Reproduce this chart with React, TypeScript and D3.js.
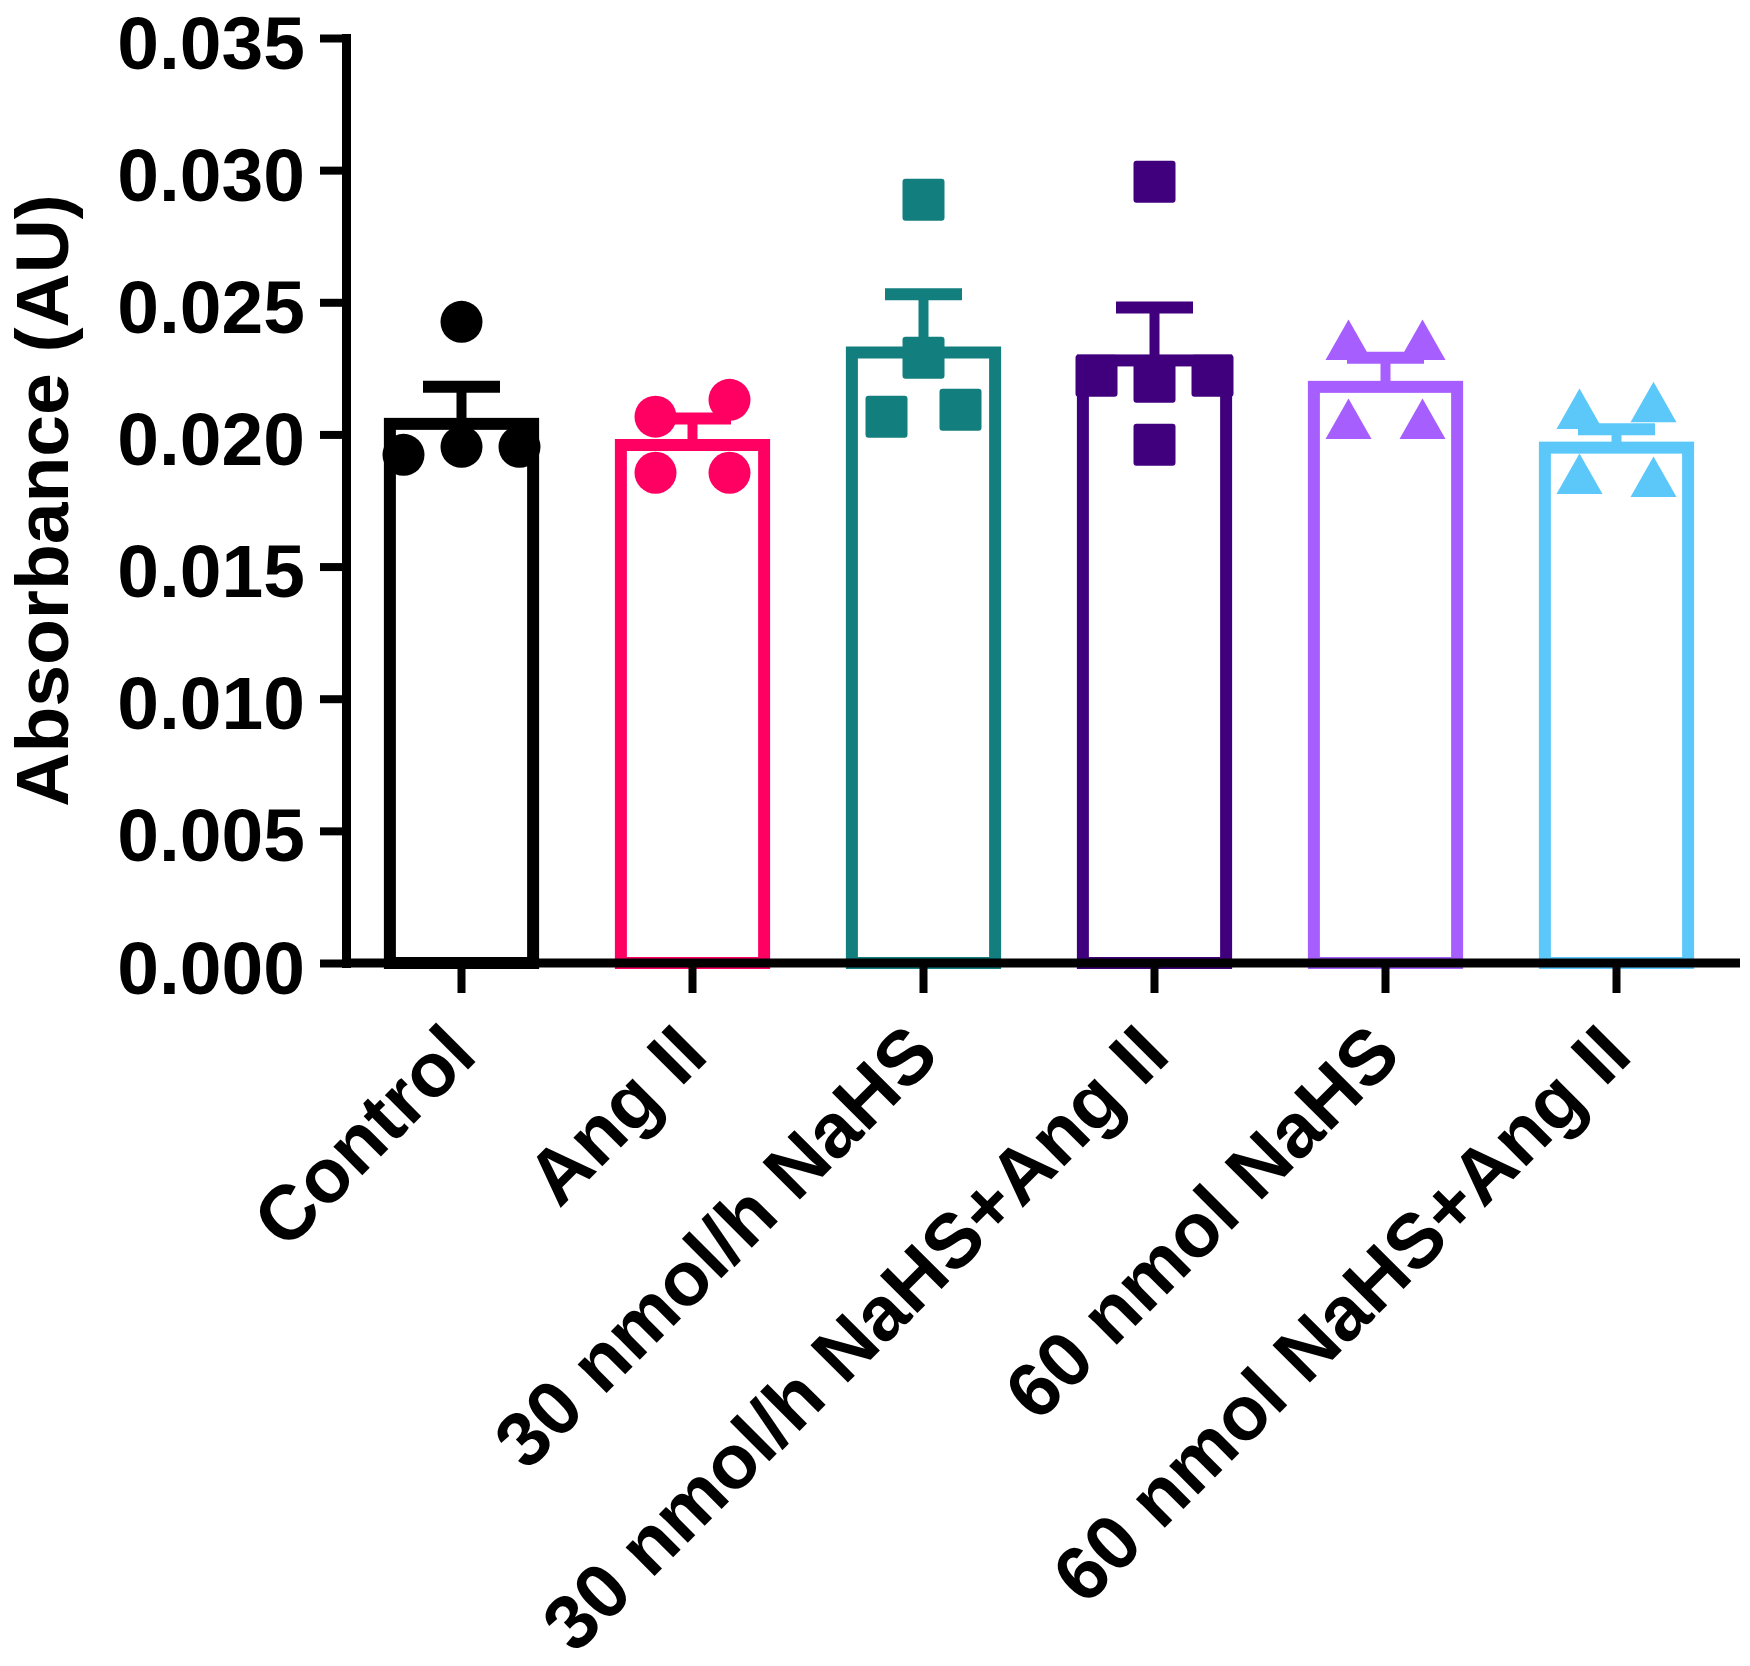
import React, { useEffect, useRef } from 'react';
import * as d3 from 'd3';

// groups, left to right
const categories = [
  'Control',
  'Ang II',
  '30 nmol/h NaHS',
  '30 nmol/h NaHS+Ang II',
  '60 nmol NaHS',
  '60 nmol NaHS+Ang II',
];

const means = [0.0204, 0.0196, 0.0231, 0.0228, 0.0218, 0.0195];
const sems = [0.0014, 0.001, 0.0022, 0.002, 0.0011, 0.0007];

// individual animals, listed left to right inside each row
const points: number[][] = [
  [0.02426, 0.01923, 0.01953, 0.01953],
  [0.02067, 0.02131, 0.01855, 0.01855],
  [0.02888, 0.0229, 0.02067, 0.02093],
  [0.02956, 0.02222, 0.02199, 0.02222, 0.01961],
  [0.02358, 0.02358, 0.02059, 0.02059],
  [0.02097, 0.02123, 0.01851, 0.0184],
];

const colors = ['#000000', '#ff0062', '#137e7e', '#40007e', '#a75eff', '#5cc8fa'];
const shapes = ['circle', 'circle', 'square', 'square', 'triangle', 'triangle'];

const yTicks = [0, 0.005, 0.01, 0.015, 0.02, 0.025, 0.03, 0.035];

const FONT = '"Liberation Sans", Arial, Helvetica, sans-serif';

const App: React.FC = () => {
  const svgRef = useRef<SVGSVGElement | null>(null);

  useEffect(() => {
    const width = 1750;
    const height = 1666;
    const axisX = 346;
    const baseY = 963;
    const topY = 38;
    const axisRight = 1740;

    const svg = d3.select(svgRef.current);
    svg.selectAll('*').remove();
    svg.attr('width', width).attr('height', height);

    const x = d3
      .scaleBand<string>()
      .domain(categories)
      .range([axisX, 1732])
      .paddingInner(0.38)
      .paddingOuter(0.19);
    const y = d3.scaleLinear().domain([0, 0.035]).range([baseY, topY]);

    const bw = x.bandwidth();
    const cx = (c: string) => (x(c) as number) + bw / 2;

    // spread points that sit at about the same height, like a column scatter
    const markerSize = 42;
    const spread = [0, 0, 37, 58, 70];
    const jitter = (vals: number[]) => {
      const order = vals.map((_, i) => i).sort((a, b) => vals[b] - vals[a]);
      const offsets = new Array(vals.length).fill(0);
      let row: number[] = [];
      const flush = () => {
        const n = row.length;
        const half = spread[Math.min(n, spread.length - 1)];
        row
          .slice()
          .sort((a, b) => a - b)
          .forEach((idx, k) => {
            offsets[idx] = n === 1 ? 0 : -half + (2 * half * k) / (n - 1);
          });
        row = [];
      };
      order.forEach((idx) => {
        if (row.length && y(vals[idx]) - y(vals[row[row.length - 1]]) > markerSize - 2) flush();
        row.push(idx);
      });
      flush();
      return offsets;
    };

    const g = svg.append('g');

    // bars
    g.selectAll('rect.bar')
      .data(categories)
      .enter()
      .append('rect')
      .attr('class', 'bar')
      .attr('x', (d) => x(d) as number)
      .attr('y', (_, i) => y(means[i]))
      .attr('width', bw)
      .attr('height', (_, i) => y(0) - y(means[i]))
      .attr('fill', '#fff')
      .attr('stroke', (_, i) => colors[i])
      .attr('stroke-width', 12);

    // error bars (mean + SEM, upward)
    categories.forEach((c, i) => {
      g.append('line')
        .attr('x1', cx(c))
        .attr('x2', cx(c))
        .attr('y1', y(means[i]))
        .attr('y2', y(means[i] + sems[i]))
        .attr('stroke', colors[i])
        .attr('stroke-width', 10);
      g.append('line')
        .attr('x1', cx(c) - 38.5)
        .attr('x2', cx(c) + 38.5)
        .attr('y1', y(means[i] + sems[i]))
        .attr('y2', y(means[i] + sems[i]))
        .attr('stroke', colors[i])
        .attr('stroke-width', 12);
    });

    // points
    const tri = (s: number) => {
      const h = s * 0.88;
      return `M0,${-h / 2}L${s / 2},${h / 2}L${-s / 2},${h / 2}Z`;
    };
    categories.forEach((c, i) => {
      const offs = jitter(points[i]);
      points[i].forEach((v, k) => {
        const px = cx(c) + offs[k];
        const py = y(v);
        if (shapes[i] === 'circle') {
          g.append('circle').attr('cx', px).attr('cy', py).attr('r', 21).attr('fill', colors[i]);
        } else if (shapes[i] === 'square') {
          g.append('rect')
            .attr('x', px - markerSize / 2)
            .attr('y', py - markerSize / 2)
            .attr('width', markerSize)
            .attr('height', markerSize)
            .attr('rx', 3)
            .attr('fill', colors[i]);
        } else {
          g.append('path')
            .attr('d', tri(46))
            .attr('transform', `translate(${px},${py})`)
            .attr('fill', colors[i]);
        }
      });
    });

    // y axis
    const yAxis = d3
      .axisLeft(y)
      .tickValues(yTicks)
      .tickSize(26)
      .tickSizeOuter(0)
      .tickPadding(15)
      .tickFormat(d3.format('.3f'));
    const ya = svg.append('g').attr('transform', `translate(${axisX},0)`).call(yAxis);
    ya.select('.domain').attr('stroke', '#000').attr('stroke-width', 9).attr('stroke-linecap', 'square');
    ya.selectAll('.tick line').attr('stroke', '#000').attr('stroke-width', 8);
    ya.selectAll('.tick text')
      .attr('fill', '#000')
      .style('font-family', FONT)
      .style('font-weight', 'bold')
      .style('font-size', '75px')
      .attr('dy', '0.4em');

    // x axis
    svg
      .append('line')
      .attr('x1', axisX)
      .attr('x2', axisRight)
      .attr('y1', baseY)
      .attr('y2', baseY)
      .attr('stroke', '#000')
      .attr('stroke-width', 9);
    const xAxis = d3.axisBottom(x).tickSize(30).tickSizeOuter(0).tickFormat(() => '');
    const xa = svg.append('g').attr('transform', `translate(0,${baseY})`).call(xAxis);
    xa.select('.domain').remove();
    xa.selectAll('.tick line').attr('stroke', '#000').attr('stroke-width', 8);

    // rotated category labels
    svg
      .selectAll('text.xlabel')
      .data(categories)
      .enter()
      .append('text')
      .attr('class', 'xlabel')
      .attr('transform', (d) => `translate(${cx(d) + 18},${baseY + 95}) rotate(-45)`)
      .attr('text-anchor', 'end')
      .style('font-family', FONT)
      .style('font-weight', 'bold')
      .style('font-size', '77px')
      .attr('fill', '#000')
      .text((d) => d);

    // y axis title
    svg
      .append('text')
      .attr('transform', `translate(68,${(topY + baseY) / 2}) rotate(-90)`)
      .attr('text-anchor', 'middle')
      .style('font-family', FONT)
      .style('font-weight', 'bold')
      .style('font-size', '75px')
      .attr('fill', '#000')
      .text('Absorbance (AU)');
  }, []);

  return (
    <div style={{ position: 'absolute', left: 0, top: 0 }}>
      <svg ref={svgRef} style={{ display: 'block' }}></svg>
    </div>
  );
};

export default App;
